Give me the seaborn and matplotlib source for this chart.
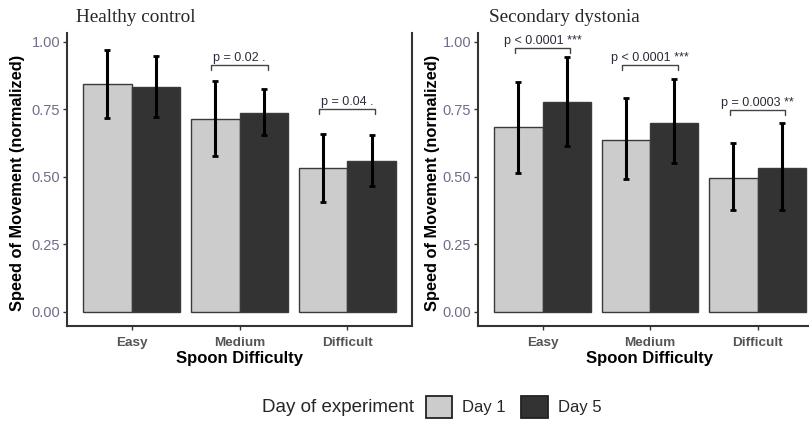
import numpy as np
import pandas as pd
import seaborn as sns
import matplotlib.pyplot as plt
from matplotlib.patches import Patch

difficulty = ["Easy", "Medium", "Difficult"]
days = ["Day 1", "Day 5"]

# healthy control
hc_day1 = [0.844, 0.714, 0.532]
hc_day1_hi = [0.970, 0.856, 0.659]
hc_day1_lo = [0.719, 0.579, 0.407]
hc_day5 = [0.832, 0.736, 0.560]
hc_day5_hi = [0.946, 0.825, 0.656]
hc_day5_lo = [0.722, 0.657, 0.468]
hc_pvals = [None, "p = 0.02 .", "p = 0.04 ."]
hc_brackets = [None, 0.915, 0.752]

# secondary dystonia
sd_day1 = [0.684, 0.637, 0.495]
sd_day1_hi = [0.853, 0.794, 0.625]
sd_day1_lo = [0.516, 0.491, 0.378]
sd_day5 = [0.779, 0.701, 0.532]
sd_day5_hi = [0.943, 0.863, 0.701]
sd_day5_lo = [0.615, 0.551, 0.378]
sd_pvals = ["p < 0.0001 ***", "p < 0.0001 ***", "p = 0.0003 **"]
sd_brackets = [0.977, 0.915, 0.748]

colors = {"Day 1": "#cccccc", "Day 5": "#333333"}

sns.set_style("white")
plt.rcParams["font.family"] = ["Liberation Sans", "DejaVu Sans"]


def make_df(d1, d5, d1_lo, d1_hi, d5_lo, d5_hi):
    return pd.DataFrame({
        "difficulty": difficulty * 2,
        "day": [days[0]] * 3 + [days[1]] * 3,
        "speed": d1 + d5,
        "lo": d1_lo + d5_lo,
        "hi": d1_hi + d5_hi,
    })


def draw_panel(ax, df, pvals, brackets, right_spine):
    sns.barplot(data=df, x="difficulty", y="speed", hue="day", order=difficulty,
                hue_order=days, palette=colors, saturation=1, width=0.9,
                errorbar=None, edgecolor="#3a3a3a", linewidth=1.0, legend=False, ax=ax)
    bars = [p for p in ax.patches if p.get_height() > 0]
    for bar, (_, row) in zip(bars, df.iterrows()):
        xc = bar.get_x() + bar.get_width() / 2
        ax.errorbar(xc, row["speed"], yerr=[[row["speed"] - row["lo"]], [row["hi"] - row["speed"]]],
                    fmt="none", ecolor="black", elinewidth=2.2, capsize=2, capthick=2)
    for i, (txt, yb) in enumerate(zip(pvals, brackets)):
        if txt is None:
            continue
        x0, x1 = i - 0.26, i + 0.26
        ax.plot([x0, x0, x1, x1], [yb - 0.018, yb, yb, yb - 0.018], color="#444444", lw=1.0)
        ax.text(i, yb + 0.003, txt, ha="center", va="bottom", fontsize=9, color="#2b2b3a")
    ax.set_xlim(-0.6, 2.6)
    ax.set_ylim(-0.052, 1.033)
    ax.set_yticks([0, 0.25, 0.5, 0.75, 1.0])
    ax.set_yticklabels(["0.00", "0.25", "0.50", "0.75", "1.00"])
    ax.tick_params(axis="y", labelsize=10.5, labelcolor="#6e6e8a", length=3, width=1,
                   color="#333333", left=True, pad=2)
    ax.tick_params(axis="x", labelsize=9.7, labelcolor="#555555", length=3, width=1,
                   color="#333333", bottom=True, pad=5)
    for lab in ax.get_xticklabels():
        lab.set_fontweight("bold")
    ax.set_xlabel("Spoon Difficulty", fontsize=12, fontweight="bold", color="black")
    ax.set_ylabel("Speed of Movement (normalized)", fontsize=11.8, fontweight="bold", color="black")
    for s in ["left", "bottom"]:
        ax.spines[s].set_color("#333333")
        ax.spines[s].set_linewidth(1.5)
    ax.spines["top"].set_visible(False)
    ax.spines["right"].set_visible(right_spine)
    ax.spines["right"].set_color("#333333")
    ax.spines["right"].set_linewidth(1.5)
    ax.grid(False)


fig = plt.figure(figsize=(8.09, 4.21), dpi=100)
ax1 = fig.add_axes([67 / 809, 95 / 421, 345 / 809, 293 / 421])
ax2 = fig.add_axes([478 / 809, 95 / 421, 344 / 809, 293 / 421])

hc = make_df(hc_day1, hc_day5, hc_day1_lo, hc_day1_hi, hc_day5_lo, hc_day5_hi)
sd = make_df(sd_day1, sd_day5, sd_day1_lo, sd_day1_hi, sd_day5_lo, sd_day5_hi)
draw_panel(ax1, hc, hc_pvals, hc_brackets, True)
draw_panel(ax2, sd, sd_pvals, sd_brackets, False)

ax1.yaxis.set_label_coords(-0.122, 0.49)
ax2.yaxis.set_label_coords(-0.11, 0.49)
ax1.xaxis.set_label_coords(0.5, -0.084)
ax2.xaxis.set_label_coords(0.5, -0.084)

fig.text(76 / 809, (421 - 22) / 421, "Healthy control", fontsize=13.8,
         family="Liberation Serif", ha="left", va="baseline")
fig.text(489 / 809, (421 - 22) / 421, "Secondary dystonia", fontsize=13.8,
         family="Liberation Serif", ha="left", va="baseline")

fig.text(414 / 809, 14 / 421, "Day of experiment", fontsize=13.5, ha="right", va="center")
handles = [Patch(facecolor=colors[d], edgecolor="#222222", linewidth=1.3, label=d) for d in days]
fig.legend(handles=handles, loc="center left", bbox_to_anchor=(414 / 809, 14 / 421), ncol=2,
           frameon=False, fontsize=12, handlelength=1.6, handleheight=1.6,
           handletextpad=0.6, columnspacing=0.9, borderpad=0.2)

fig.savefig("out.png", dpi=100)
